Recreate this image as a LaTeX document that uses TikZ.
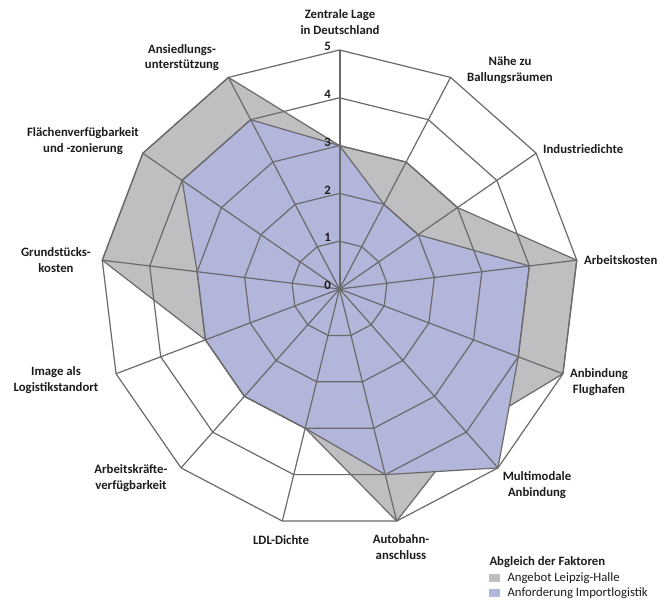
\documentclass[tikz,border=0pt]{standalone}
\usepackage{fontspec}
\setmainfont{Carlito}
\usetikzlibrary{positioning}
\definecolor{ChartGrid}{HTML}{6A6A6A}
\definecolor{OfferGray}{HTML}{BFBFC2}
\definecolor{DemandBlue}{HTML}{B2B6DA}
\definecolor{LabelDark}{HTML}{1C1C1C}
\def\chartunit{47.8}
\def\offer{3,3,3,5,5,4,5,3,3,3,5,5,5}
\def\demand{3,2,2,4,4,5,4,3,3,3,3,4,4}
\tikzset{
  axislabel/.style={font=\fontsize{12.8}{15.5}\selectfont\bfseries\color{LabelDark},
                    align=center, inner sep=0pt},
  ticklabel/.style={font=\fontsize{12.8}{15}\selectfont\bfseries\color{LabelDark}, inner sep=0pt},
  gridline/.style={draw=ChartGrid, line width=1.2bp, line join=round},
  valueaxis/.style={draw=ChartGrid, line width=2bp},
  offerarea/.style={fill=OfferGray, draw=ChartGrid, line width=1.2bp, line join=round},
  demandarea/.style={fill=DemandBlue, draw=ChartGrid, line width=1.2bp, line join=round},
  legendtitle/.style={font=\fontsize{12.8}{15}\selectfont\bfseries\color{LabelDark}, inner sep=0pt},
  legendtext/.style={font=\fontsize{12.8}{15}\selectfont\color{LabelDark}, inner sep=0pt},
  legendkey/.style={minimum width=11bp, minimum height=8bp, inner sep=0pt},
}

\begin{document}
\begin{tikzpicture}[x=1bp, y=1bp]
  \useasboundingbox (-339.5,-312) rectangle (329.5,289);

  % ---- Centre and axis ends ----
  \coordinate (ctr) at (0,0);
  \foreach \k in {0,...,12}
    \coordinate (ax\k) at ({90-\k*360/13}:5*\chartunit);

  % ---- Data areas ----
  \draw[offerarea] (90:3*\chartunit)
    foreach \v [count=\i from 0] in \offer { -- ({90-\i*360/13}:\v*\chartunit) } -- cycle;
  \draw[demandarea] (90:3*\chartunit)
    foreach \v [count=\i from 0] in \demand { -- ({90-\i*360/13}:\v*\chartunit) } -- cycle;

  % ---- Grid rings and spokes ----
  \foreach \r in {1,...,5}
    \draw[gridline] (90:\r*\chartunit)
      foreach \k in {1,...,12} { -- ({90-\k*360/13}:\r*\chartunit) } -- cycle;
  \foreach \k in {1,...,12}
    \draw[gridline] (ctr) -- (ax\k);
  \draw[valueaxis] (ctr) -- (ax0);

  % ---- Scale labels ----
  \foreach \r in {0,...,5}
    \node[ticklabel] (tick\r) at (-12,\r*\chartunit+3.5) {\r};

  % ---- Axis labels ----
  \node[axislabel] (zentrale)   at (0.5,267)     {Zentrale Lage\\in Deutschland};
  \node[axislabel] (naehe)      at (170.5,219)   {Nähe zu\\Ballungsräumen};
  \node[axislabel, anchor=west] (industrie) at (203.5,140) {Industriedichte};
  \node[axislabel, anchor=west] (kosten)    at (244.5,29)  {Arbeitskosten};
  \node[axislabel] (flughafen)  at (259.5,-93)   {Anbindung\\Flughafen};
  \node[axislabel] (multimodal) at (197.5,-196)  {Multimodale\\Anbindung};
  \node[axislabel] (autobahn)   at (61.5,-258)   {Autobahn-\\anschluss};
  \node[axislabel] (ldl)        at (-58.5,-251)  {LDL-Dichte};
  \node[axislabel] (kraefte)    at (-208.5,-189) {Arbeitskräfte-\\verfügbarkeit};
  \node[axislabel] (image)      at (-283.5,-91)  {Image als\\Logistikstandort};
  \node[axislabel] (grund)      at (-283.5,29)   {Grundstücks-\\kosten};
  \node[axislabel] (flaechen)   at (-256.5,148)  {Flächenverfügbarkeit\\und -zonierung};
  \node[axislabel] (ansiedlung) at (-157.5,231.5) {Ansiedlungs-\\unterstützung};

  % ---- Legend ----
  \node[legendtitle, anchor=west] (legtitle) at (149.8,-273) {Abgleich der Faktoren};
  \node[legendkey, fill=OfferGray]  (keyoffer)  at (154.5,-289.3) {};
  \node[legendkey, fill=DemandBlue] (keydemand) at (154.5,-304.3) {};
  \node[legendtext, anchor=west] (legoffer)  at (167.8,-289.3) {Angebot Leipzig-Halle};
  \node[legendtext, anchor=west] (legdemand) at (167.8,-304.3) {Anforderung Importlogistik};

\end{tikzpicture}
\end{document}
